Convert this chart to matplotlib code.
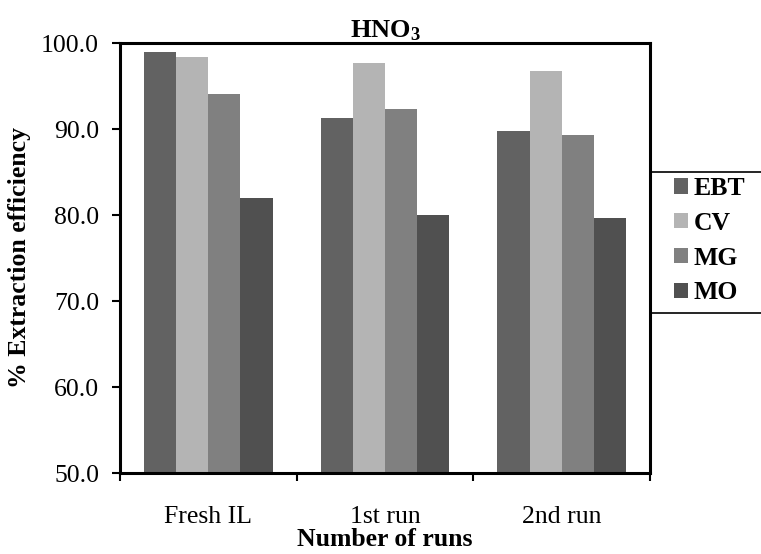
import numpy as np
import matplotlib
matplotlib.use("Agg")
import matplotlib.pyplot as plt
from matplotlib.patches import Rectangle
from matplotlib.ticker import FixedLocator, FormatStrFormatter

plt.rcParams['font.family'] = ['Liberation Serif', 'DejaVu Serif']
plt.rcParams['mathtext.fontset'] = 'custom'
plt.rcParams['mathtext.rm'] = 'Liberation Serif:bold'
plt.rcParams['mathtext.default'] = 'rm'

# Data
categories = ["Fresh IL", "1st run", "2nd run"]
series_names = ["EBT", "CV", "MG", "MO"]
ebt = [99.0, 91.3, 89.8]
cv = [98.4, 97.7, 96.7]
mg = [94.1, 92.3, 89.3]
mo = [82.0, 80.0, 79.7]
series_values = [ebt, cv, mg, mo]
colors = ["#626262", "#b4b4b4", "#808080", "#505050"]

W, H = 761, 554
fig = plt.figure(figsize=(W / 100, H / 100), dpi=100)
ax = fig.add_axes([120 / W, 1 - 473 / H, 530 / W, 430 / H])

x = np.arange(len(categories))
n = len(series_names)
bar_w = 1.0 / (n + 1.5)
handles = []
for i, (name, vals, c) in enumerate(zip(series_names, series_values, colors)):
    offs = (i - (n - 1) / 2) * bar_w
    bc = ax.bar(x + offs, vals, width=bar_w, color=c, label=name, linewidth=0)
    handles.append(bc)

ax.set_xlim(-0.5, len(categories) - 0.5)
ax.set_ylim(50, 100)
ax.set_yticks(np.arange(50, 100.1, 10))
ax.yaxis.set_major_formatter(FormatStrFormatter('%.1f'))

ax.set_xticks(x)
ax.set_xticklabels(categories)
ax.xaxis.set_minor_locator(FixedLocator(np.arange(-0.5, len(categories), 1.0)))
ax.tick_params(axis='x', which='major', length=0, pad=24, labelsize=18.5)
ax.tick_params(axis='x', which='minor', length=6, width=1.5, direction='out')
ax.tick_params(axis='y', which='major', length=6, width=1.5, direction='out',
               pad=9, labelsize=18.5)

for sp in ax.spines.values():
    sp.set_linewidth(2.2)
    sp.set_color('black')

ax.set_xlabel("Number of runs", fontsize=18.5, fontweight='bold', labelpad=0)
ax.set_ylabel("% Extraction efficiency", fontsize=18.5, fontweight='bold', labelpad=7)
ax.set_title(r"HNO$_3$", fontsize=19, fontweight='bold', pad=3)

# Legend box, running off the right edge of the figure, under the plot frame
fig.add_artist(Rectangle((650 / W, 1 - 313 / H), 130 / W, 141 / H,
                         transform=fig.transFigure, facecolor='none',
                         edgecolor='black', linewidth=1.2, zorder=-1))

leg = fig.legend(handles, series_names, loc='upper left',
                 bbox_to_anchor=(674 / W, 1 - 177 / H),
                 bbox_transform=fig.transFigure,
                 prop={'weight': 'bold', 'size': 18.5},
                 handlelength=0.55, handleheight=0.55, handletextpad=0.2,
                 labelspacing=0.46, borderpad=0, borderaxespad=0,
                 fancybox=False, frameon=False)
leg.set_zorder(5)

fig.savefig("out.png", dpi=100)
